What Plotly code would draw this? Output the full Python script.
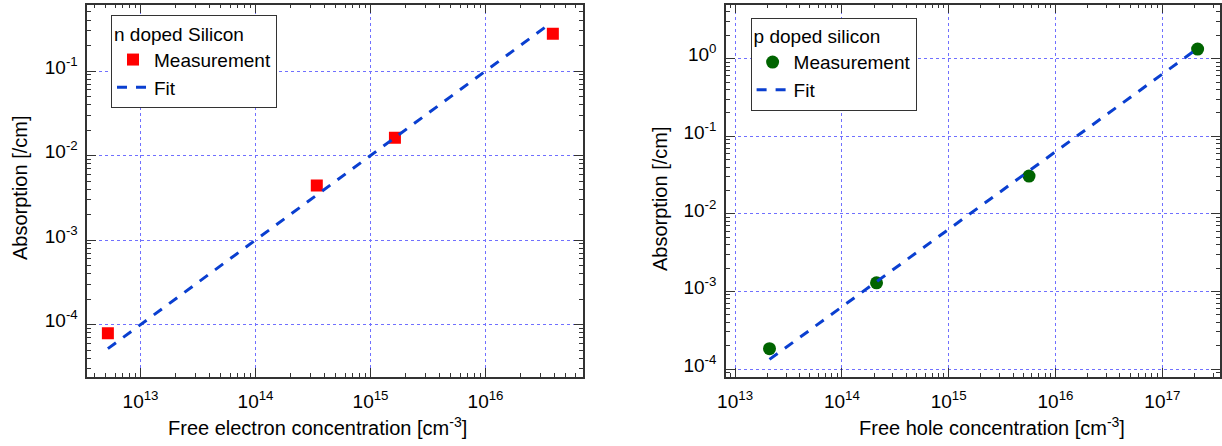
import plotly.graph_objects as go

# ---- data ----
n_conc = [5.2e12, 3.41e14, 1.63e15, 3.85e16]
n_abs = [7.9e-5, 4.42e-3, 1.63e-2, 0.277]
n_fit_conc = [5.2e12, 3.5e16]
n_fit_abs = [5.2e-5, 0.35]

p_conc = [2.1e13, 2.11e14, 5.65e15, 2.14e17]
p_abs = [1.83e-4, 1.29e-3, 0.0307, 1.33]
p_fit_conc = [2.1e13, 2.1e17]
p_fit_abs = [1.33e-4, 1.33]

left_x_ticks = [1e13, 1e14, 1e15, 1e16]
left_x_text = ["10<sup>13</sup>", "10<sup>14</sup>", "10<sup>15</sup>", "10<sup>16</sup>"]
left_y_ticks = [1e-4, 1e-3, 1e-2, 1e-1]
left_y_text = ["10<sup>-4</sup>", "10<sup>-3</sup>", "10<sup>-2</sup>", "10<sup>-1</sup>"]
right_x_ticks = [1e13, 1e14, 1e15, 1e16, 1e17]
right_x_text = ["10<sup>13</sup>", "10<sup>14</sup>", "10<sup>15</sup>", "10<sup>16</sup>", "10<sup>17</sup>"]
right_y_ticks = [1e-4, 1e-3, 1e-2, 1e-1, 1e0]
right_y_text = ["10<sup>-4</sup>", "10<sup>-3</sup>", "10<sup>-2</sup>", "10<sup>-1</sup>", "10<sup>0</sup>"]

W, H = 1222, 446
FONT = "Liberation Sans, Arial, sans-serif"
FIT_COLOR = "#0a3fd0"
GRID = "#7070ff"
AX = "#333333"


def minor_vals(lo, hi):
    vals = []
    for e in range(lo, hi + 1):
        for m in range(2, 10):
            vals.append(m * 10.0 ** e)
    return vals


fig = go.Figure()

fig.add_trace(go.Scatter(
    x=n_conc, y=n_abs, mode="markers", name="Measurement",
    marker=dict(symbol="square", size=12, color="#ff0000", line=dict(width=0)),
    xaxis="x", yaxis="y", legend="legend"))
fig.add_trace(go.Scatter(
    x=n_fit_conc, y=n_fit_abs, mode="lines", name="Fit",
    line=dict(color=FIT_COLOR, width=3, dash="10px,9px"),
    xaxis="x", yaxis="y", legend="legend"))

fig.add_trace(go.Scatter(
    x=p_conc, y=p_abs, mode="markers", name="Measurement",
    marker=dict(symbol="circle", size=13, color="#006400", line=dict(width=0)),
    xaxis="x2", yaxis="y2", legend="legend2"))
fig.add_trace(go.Scatter(
    x=p_fit_conc, y=p_fit_abs, mode="lines", name="Fit",
    line=dict(color=FIT_COLOR, width=3, dash="10px,9px"),
    xaxis="x2", yaxis="y2", legend="legend2"))


def axis(domain, rng, tickvals, ticktext, minor, anchor, is_y=False):
    d = dict(
        type="log", domain=domain, range=rng, anchor=anchor, automargin=False,
        tickmode="array", tickvals=tickvals, ticktext=ticktext,
        ticks="inside", ticklen=9, tickwidth=1, tickcolor=AX,
        showline=True, linecolor=AX, linewidth=1.5, mirror="allticks",
        showgrid=True, gridcolor=GRID, gridwidth=1, griddash="dot",
        zeroline=False,
        tickfont=dict(family=FONT, size=19, color="black"),
        minor=dict(tickmode="array", tickvals=minor, ticks="inside", ticklen=4,
                   tickwidth=1, tickcolor=AX, showgrid=False),
    )
    if is_y:
        d["ticklabelshift"] = -4
        d["ticklabelstandoff"] = 4
    else:
        d["ticklabelstandoff"] = 6
    return d


ydom = [1 - 377 / H, 1 - 4.7 / H]
LEG_FONT = 19

fig.update_layout(
    template="none",
    width=W, height=H,
    margin=dict(l=0, r=0, t=0, b=0, autoexpand=False),
    paper_bgcolor="white", plot_bgcolor="white",
    font=dict(family=FONT, size=20, color="black"),
    showlegend=True,
    xaxis=axis([87.3 / W, 582.7 / W], [12.537, 16.845], left_x_ticks, left_x_text,
               minor_vals(12, 16), "y"),
    yaxis=axis(ydom, [-4.62, -0.215], left_y_ticks, left_y_text,
               minor_vals(-5, -1), "x", True),
    xaxis2=axis([726 / W, 1220 / W], [12.915, 17.54], right_x_ticks, right_x_text,
                minor_vals(12, 17), "y2"),
    yaxis2=axis(ydom, [-4.103, 0.696], right_y_ticks, right_y_text,
                minor_vals(-5, 0), "x2", True),
    legend=dict(
        x=111 / W, y=1 - 15 / H, xanchor="left", yanchor="top",
        bgcolor="white", bordercolor="#333333", borderwidth=1,
        font=dict(family=FONT, size=LEG_FONT, color="black"),
        title=dict(text="n doped Silicon", font=dict(family=FONT, size=LEG_FONT, color="black")),
        tracegroupgap=0, itemwidth=32,
    ),
    legend2=dict(
        x=750.6 / W, y=1 - 17.5 / H, xanchor="left", yanchor="top",
        bgcolor="white", bordercolor="#333333", borderwidth=1,
        font=dict(family=FONT, size=LEG_FONT, color="black"),
        title=dict(text="p doped silicon", font=dict(family=FONT, size=LEG_FONT, color="black")),
        tracegroupgap=0, itemwidth=32,
    ),
    annotations=[
        dict(text="Free electron concentration [cm<sup>-3</sup>]", xref="paper", yref="paper",
             x=317.5 / W, y=1 - 426 / H, xanchor="center", yanchor="middle",
             showarrow=False, font=dict(family=FONT, size=20, color="black")),
        dict(text="Absorption [/cm]", xref="paper", yref="paper",
             x=20 / W, y=1 - 188 / H, xanchor="center", yanchor="middle", textangle=-90,
             showarrow=False, font=dict(family=FONT, size=20, color="black")),
        dict(text="Free hole concentration [cm<sup>-3</sup>]", xref="paper", yref="paper",
             x=992 / W, y=1 - 426 / H, xanchor="center", yanchor="middle",
             showarrow=False, font=dict(family=FONT, size=20, color="black")),
        dict(text="Absorption [/cm]", xref="paper", yref="paper",
             x=660 / W, y=1 - 199 / H, xanchor="center", yanchor="middle", textangle=-90,
             showarrow=False, font=dict(family=FONT, size=20, color="black")),
    ],
)

fig.write_html("out.html", config={"displayModeBar": False},
               post_script="document.body.style.margin='0px';document.body.style.overflow='hidden';")
